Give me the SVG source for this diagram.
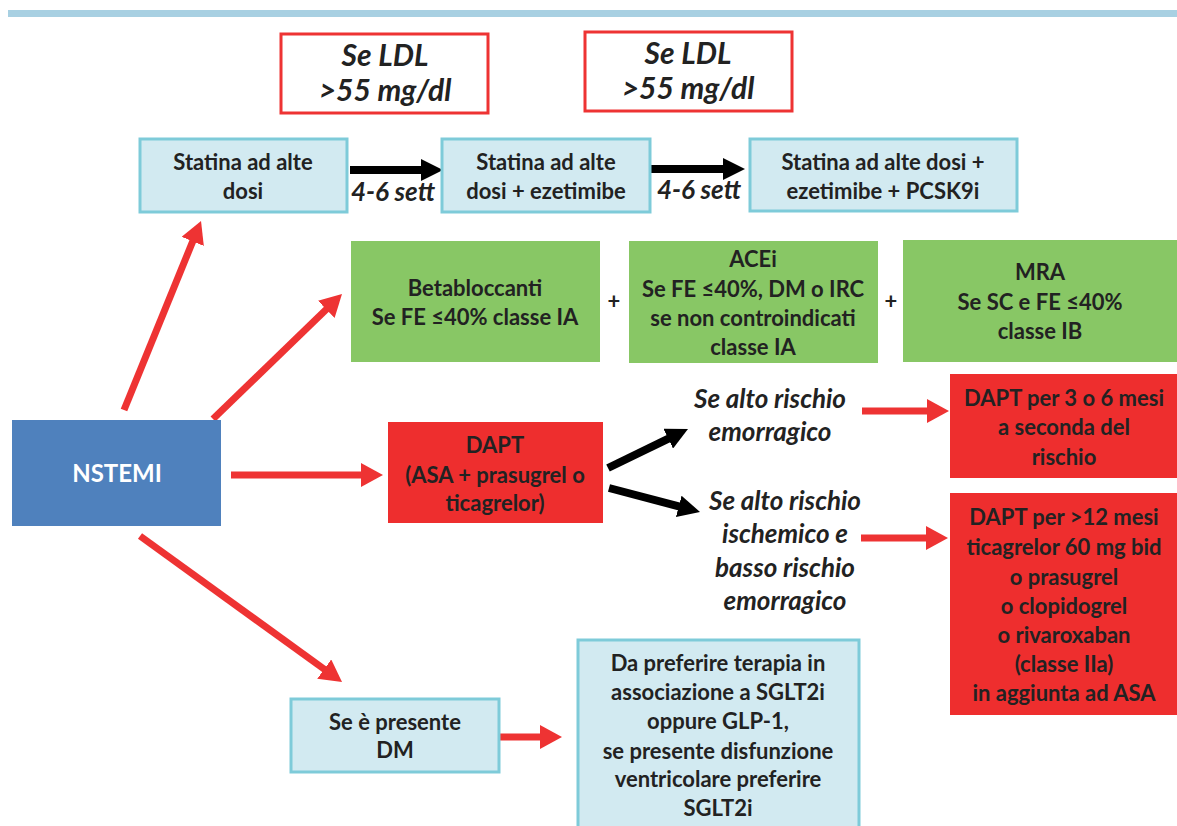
<svg xmlns="http://www.w3.org/2000/svg" width="1177" height="826" viewBox="0 0 1177 826">
  <style>
    .t { font-family: Lato, "Open Sans", "Liberation Sans", sans-serif; font-weight: 700; fill: #222222; text-anchor: middle; font-size: 22px; }
    .it { font-style: italic; font-size: 26px; }
    .ldl { font-style: italic; font-size: 30px; }
    .w { fill: #ffffff; font-size: 24px; }
    .blue { fill: #d2eaf1; stroke: #7ecbd9; stroke-width: 3; }
    .green { fill: #88c765; }
    .red { fill: #ee2e2e; }
    .cond { fill: #ffffff; stroke: #ee3333; stroke-width: 3; }
    .ra { stroke: #ee3333; stroke-width: 7; fill: none; marker-end: url(#headRed); }
    .ba { stroke: #000000; stroke-width: 8; fill: none; marker-end: url(#headBlack); }
  </style>
  <defs>
    <marker id="headRed" viewBox="0 0 22 24" refX="10" refY="12" markerWidth="22" markerHeight="24" markerUnits="userSpaceOnUse" orient="auto">
      <path d="M0,0 L22,12 L0,24 z" fill="#ee3333"/>
    </marker>
    <marker id="headBlack" viewBox="0 0 22 22" refX="10" refY="11" markerWidth="22" markerHeight="22" markerUnits="userSpaceOnUse" orient="auto">
      <path d="M0,0 L22,11 L0,22 z" fill="#000000"/>
    </marker>
  </defs>

  <!-- header rule -->
  <rect x="8" y="10" width="1169" height="7" fill="#a8d0e2"/>

  <!-- connectors -->
  <g id="connectors">
    <line class="ra" x1="124" y1="410" x2="196.5" y2="232.1"/>
    <line class="ra" x1="213" y1="419" x2="333.4" y2="302.4"/>
    <line class="ra" x1="231" y1="475" x2="371" y2="475"/>
    <line class="ra" x1="140" y1="536" x2="332.3" y2="675"/>
    <line class="ra" x1="499" y1="737" x2="550" y2="737"/>
    <line class="ra" x1="862" y1="411" x2="937" y2="411"/>
    <line class="ra" x1="861" y1="538" x2="936" y2="538"/>
    <line class="ba" x1="350" y1="170" x2="431" y2="170"/>
    <line class="ba" x1="651" y1="169" x2="733" y2="169"/>
    <line class="ba" x1="608" y1="468" x2="677.2" y2="434.3"/>
    <line class="ba" x1="609" y1="488" x2="688.4" y2="508.9"/>
    <text class="t it" x="393" y="201">4-6 sett</text>
    <text class="t it" x="699" y="199">4-6 sett</text>
    <text class="t" x="614" y="309">+</text>
    <text class="t" x="891" y="309">+</text>
  </g>

  <!-- LDL conditions -->
  <g id="ldl1">
    <rect class="cond" x="281" y="34" width="207" height="79"/>
    <text class="t ldl" x="385" y="66">Se LDL</text>
    <text class="t ldl" x="385" y="101">&gt;55 mg/dl</text>
  </g>
  <g id="ldl2">
    <rect class="cond" x="585" y="32" width="207" height="79"/>
    <text class="t ldl" x="688" y="64">Se LDL</text>
    <text class="t ldl" x="688" y="99">&gt;55 mg/dl</text>
  </g>

  <!-- lipid therapy steps -->
  <g id="statina">
    <rect class="blue" x="140" y="139" width="207" height="73"/>
    <text class="t" x="243" y="170">Statina ad alte</text>
    <text class="t" x="243" y="199">dosi</text>
  </g>
  <g id="statina-ezetimibe">
    <rect class="blue" x="442" y="139" width="208" height="73"/>
    <text class="t" x="546" y="170">Statina ad alte</text>
    <text class="t" x="546" y="199">dosi + ezetimibe</text>
  </g>
  <g id="statina-pcsk9i">
    <rect class="blue" x="750" y="139" width="267" height="72"/>
    <text class="t" x="883" y="170">Statina ad alte dosi +</text>
    <text class="t" x="883" y="199">ezetimibe + PCSK9i</text>
  </g>

  <!-- neurohormonal therapy -->
  <g id="betabloccanti">
    <rect class="green" x="351" y="241" width="249" height="121"/>
    <text class="t" x="475" y="296">Betabloccanti</text>
    <text class="t" x="475" y="325">Se FE ≤40% classe IA</text>
  </g>
  <g id="acei">
    <rect class="green" x="629" y="241" width="249" height="122"/>
    <text class="t" x="753" y="267">ACEi</text>
    <text class="t" x="753" y="297">Se FE ≤40%, DM o IRC</text>
    <text class="t" x="753" y="326">se non controindicati</text>
    <text class="t" x="753" y="355">classe IA</text>
  </g>
  <g id="mra">
    <rect class="green" x="903" y="240" width="274" height="122"/>
    <text class="t" x="1040" y="280">MRA</text>
    <text class="t" x="1040" y="310">Se SC e FE ≤40%</text>
    <text class="t" x="1040" y="339">classe IB</text>
  </g>

  <!-- entry node -->
  <g id="nstemi">
    <rect x="12" y="420" width="209" height="106" fill="#4f81bd"/>
    <text class="t w" x="117" y="482">NSTEMI</text>
  </g>

  <!-- antiplatelet therapy -->
  <g id="dapt">
    <rect class="red" x="388" y="422" width="215" height="101"/>
    <text class="t" x="495" y="453">DAPT</text>
    <text class="t" x="495" y="483">(ASA + prasugrel o</text>
    <text class="t" x="495" y="511">ticagrelor)</text>
  </g>
  <g id="rischio-emorragico">
    <text class="t it" x="770" y="408">Se alto rischio</text>
    <text class="t it" x="770" y="441">emorragico</text>
  </g>
  <g id="rischio-ischemico">
    <text class="t it" x="785" y="510">Se alto rischio</text>
    <text class="t it" x="785" y="543">ischemico e</text>
    <text class="t it" x="785" y="577">basso rischio</text>
    <text class="t it" x="785" y="610">emorragico</text>
  </g>
  <g id="dapt-breve">
    <rect class="red" x="950" y="374" width="227" height="104"/>
    <text class="t" x="1064" y="406">DAPT per 3 o 6 mesi</text>
    <text class="t" x="1064" y="435">a seconda del</text>
    <text class="t" x="1064" y="465">rischio</text>
  </g>
  <g id="dapt-prolungata">
    <rect class="red" x="950" y="493" width="227" height="222"/>
    <text class="t" x="1064" y="525">DAPT per &gt;12 mesi</text>
    <text class="t" x="1064" y="555">ticagrelor 60 mg bid</text>
    <text class="t" x="1064" y="585">o prasugrel</text>
    <text class="t" x="1064" y="614">o clopidogrel</text>
    <text class="t" x="1064" y="643">o rivaroxaban</text>
    <text class="t" x="1064" y="672">(classe IIa)</text>
    <text class="t" x="1064" y="701">in aggiunta ad ASA</text>
  </g>

  <!-- diabetes -->
  <g id="dm">
    <rect class="blue" x="291" y="699" width="208" height="73"/>
    <text class="t" x="395" y="730">Se è presente</text>
    <text class="t" x="395" y="758">DM</text>
  </g>
  <g id="sglt2i">
    <rect class="blue" x="578" y="640" width="281" height="200"/>
    <text class="t" x="718" y="671">Da preferire terapia in</text>
    <text class="t" x="718" y="700">associazione a SGLT2i</text>
    <text class="t" x="718" y="729">oppure GLP-1,</text>
    <text class="t" x="718" y="759">se presente disfunzione</text>
    <text class="t" x="718" y="787">ventricolare preferire</text>
    <text class="t" x="718" y="816">SGLT2i</text>
  </g>
</svg>
